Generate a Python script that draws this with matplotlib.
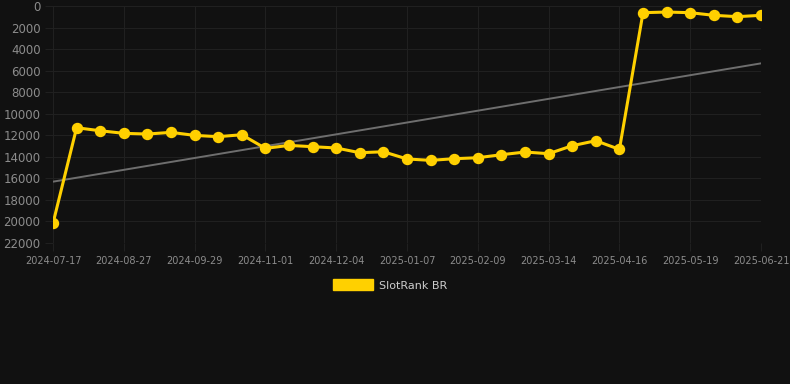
import numpy as np
import matplotlib
matplotlib.use("Agg")
import matplotlib.pyplot as plt
from matplotlib.patches import Patch

# --- DATA ---
rank_values = [20175, 11300, 11580, 11820, 11885, 11730, 12010, 12130, 11950,
               13215, 12940, 13060, 13180, 13620, 13530, 14200, 14330, 14175,
               14085, 13805, 13555, 13710, 12970, 12505, 13310, 620, 560, 620,
               865, 990, 865]
date_labels = ['2024-07-17', '2024-08-27', '2024-09-29', '2024-11-01', '2024-12-04',
               '2025-01-07', '2025-02-09', '2025-03-14', '2025-04-16', '2025-05-19',
               '2025-06-21']
y_ticks = list(range(0, 22001, 2000))
series_name = 'SlotRank BR'

# --- STYLE ---
BG = '#111111'
GRID = '#202020'
TEXT = '#8c8c8c'
YELLOW = '#ffd000'
TREND = '#6e6e6e'

W, H = 790, 384
fig = plt.figure(figsize=(W / 100, H / 100), dpi=100, facecolor=BG)
ax = fig.add_axes([53 / W, (H - 243) / H, 708 / W, 237 / H], facecolor=BG)

x = np.arange(len(rank_values))
y = np.array(rank_values, dtype=float)

# linear trend through the series
coef = np.polyfit(x, y, 1)
ax.plot(x, np.polyval(coef, x), color=TREND, lw=1.4, zorder=2)

ax.plot(x, y, color=YELLOW, lw=2.2, marker='o', markersize=7.2,
        markerfacecolor=YELLOW, markeredgecolor=YELLOW, zorder=3)

ax.set_xlim(0, len(rank_values) - 1)
ax.set_ylim(22000, 0)
ax.set_yticks(y_ticks)
ax.set_yticklabels([str(v) for v in y_ticks])
ax.set_xticks(np.arange(0, len(rank_values), 3))
ax.set_xticklabels(date_labels)

ax.grid(True, color=GRID, lw=0.8)
ax.set_axisbelow(True)
for s in ax.spines.values():
    s.set_visible(False)

ax.tick_params(axis='y', colors=GRID, length=6, width=0.8, pad=3,
               labelcolor=TEXT, labelsize=8.5)
ax.tick_params(axis='x', colors=GRID, length=6, width=0.8, pad=3,
               labelcolor=TEXT, labelsize=7)

fig.legend(handles=[Patch(facecolor=YELLOW, edgecolor=YELLOW)], labels=[series_name],
           loc='center', bbox_to_anchor=(390 / W, (H - 285) / H),
           frameon=False, fontsize=8, labelcolor='#cccccc',
           handlelength=3.6, handleheight=1.1, handletextpad=0.6)

fig.savefig('out.png', dpi=100, facecolor=BG)
